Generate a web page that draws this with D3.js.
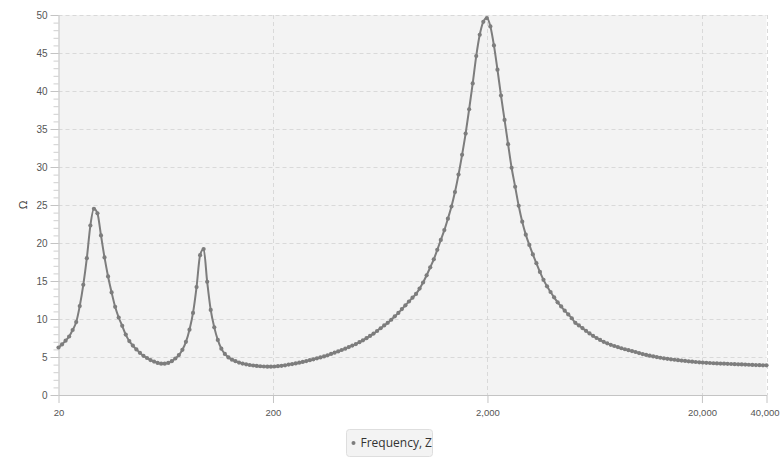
<!DOCTYPE html>
<html>
<head>
<meta charset="utf-8">
<script src="https://cdn.jsdelivr.net/npm/d3@7"></script>
<style>
  body { margin: 0; background: #fff; }
  svg { font-family: "Open Sans", "Noto Sans", sans-serif; }
</style>
</head>
<body>
<svg id="chart" width="781" height="463"></svg>
<script>
// frequency grid (Hz), 201 log-spaced points 20 .. 40000
const frequencies = [
  20, 20.77, 21.58, 22.42, 23.28, 24.19, 25.12, 26.10, 27.11, 28.16,
  29.25, 30.38, 31.56, 32.78, 34.05, 35.37, 36.74, 38.16, 39.64, 41.17,
  42.77, 44.43, 46.15, 47.93, 49.79, 51.72, 53.72, 55.80, 57.97, 60.21,
  62.54, 64.97, 67.48, 70.10, 72.81, 75.63, 78.56, 81.61, 84.77, 88.05,
  91.46, 95.00, 98.68, 102.5, 106.5, 110.6, 114.9, 119.3, 124.0, 128.8,
  133.7, 138.9, 144.3, 149.9, 155.7, 161.7, 168.0, 174.5, 181.3, 188.3,
  195.6, 203.2, 211.0, 219.2, 227.7, 236.5, 245.7, 255.2, 265.1, 275.4,
  286.0, 297.1, 308.6, 320.6, 333.0, 345.9, 359.3, 373.2, 387.6, 402.7,
  418.3, 434.5, 451.3, 468.8, 486.9, 505.8, 525.4, 545.7, 566.9, 588.8,
  611.6, 635.3, 659.9, 685.5, 712.1, 739.6, 768.3, 798.1, 829.0, 861.1,
  894.4, 929.1, 965.1, 1002, 1041, 1082, 1124, 1167, 1212, 1259,
  1308, 1359, 1411, 1466, 1523, 1582, 1643, 1707, 1773, 1841,
  1913, 1987, 2064, 2144, 2227, 2313, 2403, 2496, 2592, 2693,
  2797, 2905, 3018, 3135, 3256, 3382, 3513, 3650, 3791, 3938,
  4090, 4249, 4413, 4584, 4762, 4946, 5138, 5337, 5544, 5759,
  5982, 6213, 6454, 6704, 6964, 7233, 7514, 7805, 8107, 8421,
  8747, 9086, 9438, 9804, 10184, 10578, 10988, 11413, 11856, 12315,
  12792, 13287, 13802, 14337, 14892, 15469, 16068, 16691, 17337, 18009,
  18706, 19431, 20183, 20965, 21777, 22621, 23497, 24407, 25353, 26335,
  27355, 28415, 29515, 30659, 31846, 33080, 34361, 35692, 37075, 38511,
  40000
];

// impedance Z (ohm)
const impedance = [
  6.25, 6.65, 7.15, 7.7, 8.55, 9.6, 11.7, 14.5, 18.0, 22.3,
  24.5, 23.9, 21.0, 18.1, 15.6, 13.5, 11.6, 10.2, 9.1, 7.95,
  7.1, 6.5, 6.0, 5.55, 5.15, 4.87, 4.6, 4.4, 4.22, 4.12,
  4.12, 4.22, 4.45, 4.8, 5.25, 5.95, 7.0, 8.6, 10.8, 14.2,
  18.4, 19.2, 14.9, 11.2, 8.9, 7.25, 6.1, 5.4, 4.95, 4.65,
  4.45, 4.27, 4.14, 4.03, 3.95, 3.88, 3.82, 3.78, 3.75, 3.73,
  3.73, 3.75, 3.79, 3.84, 3.9, 4.0, 4.07, 4.15, 4.25, 4.35,
  4.46, 4.58, 4.7, 4.83, 4.95, 5.08, 5.23, 5.4, 5.57, 5.74,
  5.92, 6.1, 6.3, 6.5, 6.7, 6.95, 7.2, 7.48, 7.77, 8.08,
  8.42, 8.78, 9.15, 9.5, 9.9, 10.35, 10.8, 11.3, 11.8, 12.3,
  12.8, 13.3, 14.0, 14.8, 15.75, 16.8, 17.85, 19.1, 20.4, 21.7,
  23.2, 24.8, 26.7, 29.0, 31.6, 34.4, 37.6, 41.0, 44.6, 47.4,
  49.1, 49.6, 48.5, 46.0, 42.8, 39.4, 36.2, 33.0, 29.9, 27.4,
  24.9, 22.8, 21.1, 19.75, 18.5, 17.35, 16.2, 15.15, 14.3, 13.55,
  12.85, 12.2, 11.65, 11.1, 10.6, 10.1, 9.5, 9.15, 8.8, 8.45,
  8.1, 7.78, 7.5, 7.25, 7.0, 6.8, 6.6, 6.45, 6.3, 6.15,
  6.02, 5.9, 5.78, 5.66, 5.52, 5.38, 5.27, 5.17, 5.08, 4.99,
  4.9, 4.83, 4.76, 4.7, 4.64, 4.58, 4.53, 4.48, 4.43, 4.38,
  4.34, 4.3, 4.27, 4.24, 4.21, 4.18, 4.16, 4.14, 4.12, 4.1,
  4.08, 4.06, 4.04, 4.02, 4.0, 3.98, 3.96, 3.94, 3.92, 3.91,
  3.9
];

const xTicks = [20, 200, 2000, 20000, 40000];
const yTicks = [0, 5, 10, 15, 20, 25, 30, 35, 40, 45, 50];
const yMinorTicks = d3.range(0, 51, 1);
const seriesName = 'Frequency, Z';
const yTitle = 'Ω';

const data = frequencies.map((f, i) => ({ f, z: impedance[i] }));

const svg = d3.select('#chart');
const plot = { left: 58.5, right: 766.5, top: 15, bottom: 395 };

const x = d3.scaleLog().domain([20, 40000]).range([plot.left, plot.right]);
const y = d3.scaleLinear().domain([0, 50]).range([plot.bottom, plot.top]);

const lineColor = '#7d7d7d';
const gridColor = '#d9d9d9';
const axisColor = '#c4c4c4';
const textColor = '#555';

// plot background
svg.append('rect')
  .attr('x', plot.left).attr('y', plot.top)
  .attr('width', plot.right - plot.left).attr('height', plot.bottom - plot.top)
  .attr('fill', '#f3f3f3');

// grid
svg.append('g').selectAll('line')
  .data(yTicks.slice(1))
  .join('line')
  .attr('x1', plot.left).attr('x2', plot.right)
  .attr('y1', d => Math.round(y(d)) + 0.5).attr('y2', d => Math.round(y(d)) + 0.5)
  .attr('stroke', gridColor).attr('stroke-dasharray', '4,3');

svg.append('g').selectAll('line')
  .data(xTicks.slice(1))
  .join('line')
  .attr('x1', d => Math.round(x(d)) + 0.5).attr('x2', d => Math.round(x(d)) + 0.5)
  .attr('y1', plot.top).attr('y2', plot.bottom)
  .attr('stroke', gridColor).attr('stroke-dasharray', '4,3');

// y axis: minor ticks then major
const yMinor = svg.append('g')
  .attr('transform', `translate(${plot.left},0)`)
  .call(d3.axisLeft(y).tickValues(yMinorTicks).tickSize(5).tickFormat(''));
yMinor.select('.domain').remove();
yMinor.selectAll('line').attr('stroke', '#cfcfcf');

const yAxis = svg.append('g')
  .attr('transform', `translate(${plot.left},0)`)
  .call(d3.axisLeft(y).tickValues(yTicks).tickSize(8).tickSizeOuter(0).tickPadding(3));
yAxis.select('.domain').attr('stroke', axisColor);
yAxis.selectAll('line').attr('stroke', axisColor);
yAxis.selectAll('text').attr('fill', textColor).attr('font-size', 10);

// x axis
const xAxis = svg.append('g')
  .attr('transform', `translate(0,${plot.bottom})`)
  .call(d3.axisBottom(x).tickValues(xTicks).tickFormat(d3.format(',')).tickSize(8).tickSizeOuter(0).tickPadding(6));
xAxis.select('.domain').attr('stroke', axisColor);
xAxis.selectAll('line').attr('stroke', axisColor);
xAxis.selectAll('text').attr('fill', textColor).attr('font-size', 9.5);
// keep the last label inside the window
xAxis.selectAll('text').filter(d => d === 40000).attr('dx', -2);

// y title
svg.append('text')
  .attr('transform', 'translate(27,205) rotate(-90)')
  .attr('text-anchor', 'middle')
  .attr('font-size', 11)
  .attr('fill', '#333')
  .text(yTitle);

// series
const line = d3.line().x(d => x(d.f)).y(d => y(d.z)).curve(d3.curveMonotoneX);
svg.append('path')
  .datum(data)
  .attr('d', line)
  .attr('fill', 'none')
  .attr('stroke', lineColor)
  .attr('stroke-width', 2);

svg.append('g').selectAll('circle')
  .data(data)
  .join('circle')
  .attr('cx', d => x(d.f))
  .attr('cy', d => y(d.z))
  .attr('r', 2.1)
  .attr('fill', lineColor);

// legend
const legend = svg.append('g').attr('transform', 'translate(346.5,429.5)');
legend.append('rect')
  .attr('width', 86).attr('height', 27).attr('rx', 3)
  .attr('fill', '#f3f3f3').attr('stroke', '#dedede');
legend.append('circle')
  .attr('cx', 7).attr('cy', 13.5).attr('r', 2)
  .attr('fill', lineColor);
legend.append('text')
  .attr('x', 14).attr('y', 17.5)
  .attr('font-size', 12)
  .attr('fill', '#333')
  .text(seriesName);
</script>
</body>
</html>
